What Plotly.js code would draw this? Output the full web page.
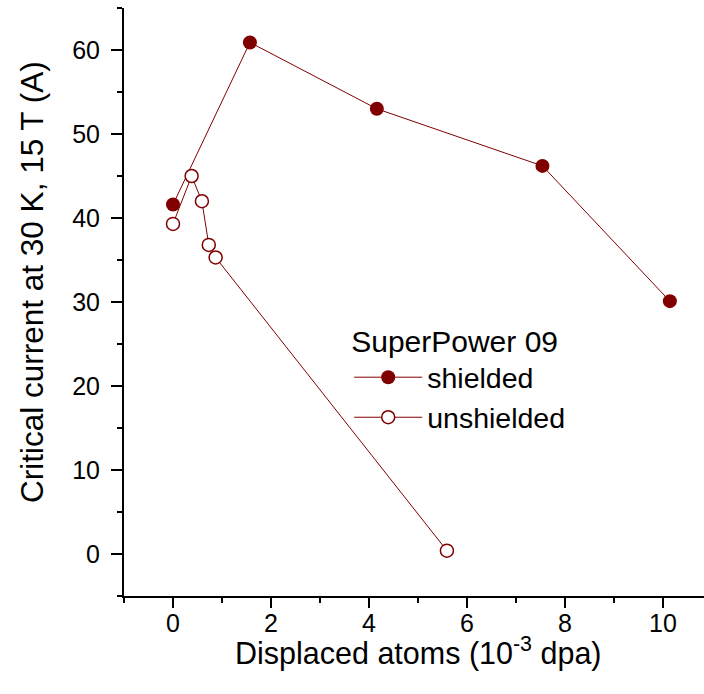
<!DOCTYPE html>
<html>
<head>
<meta charset="utf-8">
<script src="https://cdn.plot.ly/plotly-3.0.1.min.js"></script>
<style>
html, body { margin: 0; padding: 0; overflow: hidden; background: #fff; }
#chart { width: 720px; height: 694px; }
</style>
</head>
<body>
<div id="chart"></div>
<script>
// Data
const legendTitle = 'SuperPower 09';
const seriesNames = ['shielded', 'unshielded'];
const shieldedX = [0, 1.57, 4.16, 7.54, 10.14];
const shieldedY = [41.6, 60.9, 53.0, 46.2, 30.1];
const unshieldedX = [0, 0.38, 0.59, 0.73, 0.87, 5.59];
const unshieldedY = [39.3, 45.0, 42.0, 36.8, 35.3, 0.4];
const xTitle = 'Displaced atoms (10<sup>-3</sup> dpa)';
const yTitle = 'Critical current at 30 K, 15 T (A)';
const xRange = [-1, 11];
const yRange = [-5, 65];

const red = '#800000';
const fontFamily = '"Liberation Sans", Arial, sans-serif';

const traces = [
  {
    x: shieldedX, y: shieldedY, name: seriesNames[0],
    type: 'scatter', mode: 'lines+markers',
    line: { color: red, width: 1 },
    marker: { symbol: 'circle', size: 14, color: red, line: { width: 0 } }
  },
  {
    x: unshieldedX, y: unshieldedY, name: seriesNames[1],
    type: 'scatter', mode: 'lines+markers',
    line: { color: red, width: 1 },
    marker: { symbol: 'circle', size: 13, color: '#ffffff', line: { color: red, width: 1.5 } }
  }
];

const axisCommon = {
  showline: true, linecolor: '#000', linewidth: 2,
  showgrid: false, zeroline: false,
  tickcolor: '#000', tickwidth: 2,
  tickfont: { family: fontFamily, size: 25, color: '#000' }
};

const layout = {
  width: 720, height: 694,
  margin: { l: 124, r: 8, t: 8, b: 98 },
  paper_bgcolor: '#fff', plot_bgcolor: '#fff',
  font: { family: fontFamily, color: '#000' },
  showlegend: true,
  legend: {
    x: 0.383, y: 0.481, xanchor: 'left', yanchor: 'top',
    bgcolor: 'rgba(0,0,0,0)', borderwidth: 0,
    font: { family: fontFamily, size: 28.5, color: '#000' },
    title: { text: legendTitle, font: { family: fontFamily, size: 30, color: '#000' } },
    itemwidth: 68, tracegroupgap: 0
  },
  xaxis: Object.assign({}, axisCommon, {
    range: xRange, tick0: 0, dtick: 2,
    ticks: 'outside', ticklen: 10,
    minor: { dtick: 1, tick0: 0, ticks: 'outside', ticklen: 5, tickwidth: 2, tickcolor: '#000' },
    ticklabelstandoff: -6
  }),
  xaxis2: Object.assign({}, axisCommon, {
    overlaying: 'x', side: 'top', range: xRange, tick0: 0, dtick: 2,
    ticks: 'inside', ticklen: 11, showticklabels: false,
    minor: { dtick: 1, tick0: 0, ticks: 'inside', ticklen: 6, tickwidth: 2, tickcolor: '#000' }
  }),
  yaxis: Object.assign({}, axisCommon, {
    range: yRange, tick0: 0, dtick: 10,
    ticks: 'outside', ticklen: 11,
    minor: { dtick: 5, tick0: 0, ticks: 'outside', ticklen: 5, tickwidth: 2, tickcolor: '#000' },
    ticklabelstandoff: 6
  }),
  yaxis2: Object.assign({}, axisCommon, {
    overlaying: 'y', side: 'right', range: yRange, tick0: 0, dtick: 10,
    ticks: 'inside', ticklen: 11, showticklabels: false,
    minor: { dtick: 5, tick0: 0, ticks: 'inside', ticklen: 6, tickwidth: 2, tickcolor: '#000' }
  }),
  annotations: [
    {
      text: xTitle, xref: 'paper', yref: 'paper', x: 0.5, y: -0.0952,
      xanchor: 'center', yanchor: 'middle', showarrow: false,
      font: { family: fontFamily, size: 30.5, color: '#000' }
    },
    {
      text: yTitle, xref: 'paper', yref: 'paper', x: -0.1565, y: 0.534,
      xanchor: 'center', yanchor: 'middle', showarrow: false, textangle: -90,
      font: { family: fontFamily, size: 31.5, color: '#000' }
    }
  ]
};

Plotly.newPlot('chart', traces, layout, { staticPlot: true, displayModeBar: false });
</script>
</body>
</html>
